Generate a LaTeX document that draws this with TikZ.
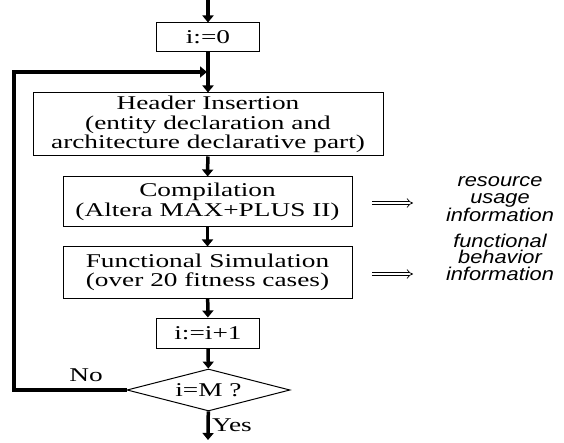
\documentclass[tikz,border=0pt]{standalone}
\usepackage{fontspec}
\usepackage{tikz}
\usetikzlibrary{positioning,arrows.meta,shapes.geometric}
\newfontfamily\boxfont{Liberation Serif}[FakeStretch=1.40]
\newfontfamily\notefont{Liberation Sans}[FakeStretch=1.18]

\begin{document}
\begin{tikzpicture}[x=1pt,y=-1pt,
    stepbox/.style={rectangle, draw, line width=1pt, inner sep=0pt, align=center,
        font=\boxfont\fontsize{19.5}{19.5}\selectfont},
    testbox/.style={diamond, draw, line width=1pt, inner sep=0pt, aspect=3.9,
        minimum width=163pt, minimum height=42pt, font=\boxfont\fontsize{19.5}{19.5}\selectfont},
    flow/.style={line width=3.5pt, -{Triangle[width=11pt,length=7pt]}},
    note/.style={align=center, font=\notefont\itshape\fontsize{18.5}{16.5}\selectfont},
    result/.style={double, line width=0.7pt, double distance=2.6pt, -{Implies}},
    lbl/.style={font=\boxfont\fontsize{19.5}{19.5}\selectfont}
]
\useasboundingbox (0,0) rectangle (564,443);

\node[stepbox, minimum width=103pt, minimum height=29pt] (init) at (208,37.5) {i:=0};
\node[stepbox, minimum width=350pt, minimum height=63pt] (header) at (208,124.5)
    {Header Insertion\\(entity declaration and\\architecture declarative part)};
\node[stepbox, minimum width=289pt, minimum height=50pt] (compile) at (207.5,202)
    {Compilation\\(Altera MAX+PLUS II)};
\node[stepbox, minimum width=289pt, minimum height=51pt] (simul) at (207.5,272.5)
    {Functional Simulation\\(over 20 fitness cases)};
\node[stepbox, minimum width=103pt, minimum height=30pt] (incr) at (208,333) {i:=i+1};
\node[testbox] (test) at (208.5,390) {i=M ?};

\node[note] (usage) at (500,199) {resource\\usage\\information};
\node[note] (behav) at (500,257) {functional\\behavior\\information};

\coordinate (start) at (208,0);
\coordinate (stop) at (208,440);
\coordinate (loopcorner) at (14,72);
\coordinate (merge) at (207,72);

% main flow
\draw[flow] (start) -- (init);
\draw[flow] (init) -- (header);
\draw[flow] (header) -- (compile);
\draw[flow] (compile) -- (simul);
\draw[flow] (simul) -- (incr);
\draw[flow] (incr) -- (test);
\draw[flow] (test) -- (stop);
\node[lbl] (yes) at (232,425) {Yes};

% loop back
\draw[flow] (test.west) -| (loopcorner) -- (merge);
\node[lbl] (no) at (86,375) {No};

% outputs
\coordinate (out1) at (372,203);
\coordinate (out2) at (372,274);
\draw[result] (out1) -- ++(41,0);
\draw[result] (out2) -- ++(41,0);
\end{tikzpicture}
\end{document}
